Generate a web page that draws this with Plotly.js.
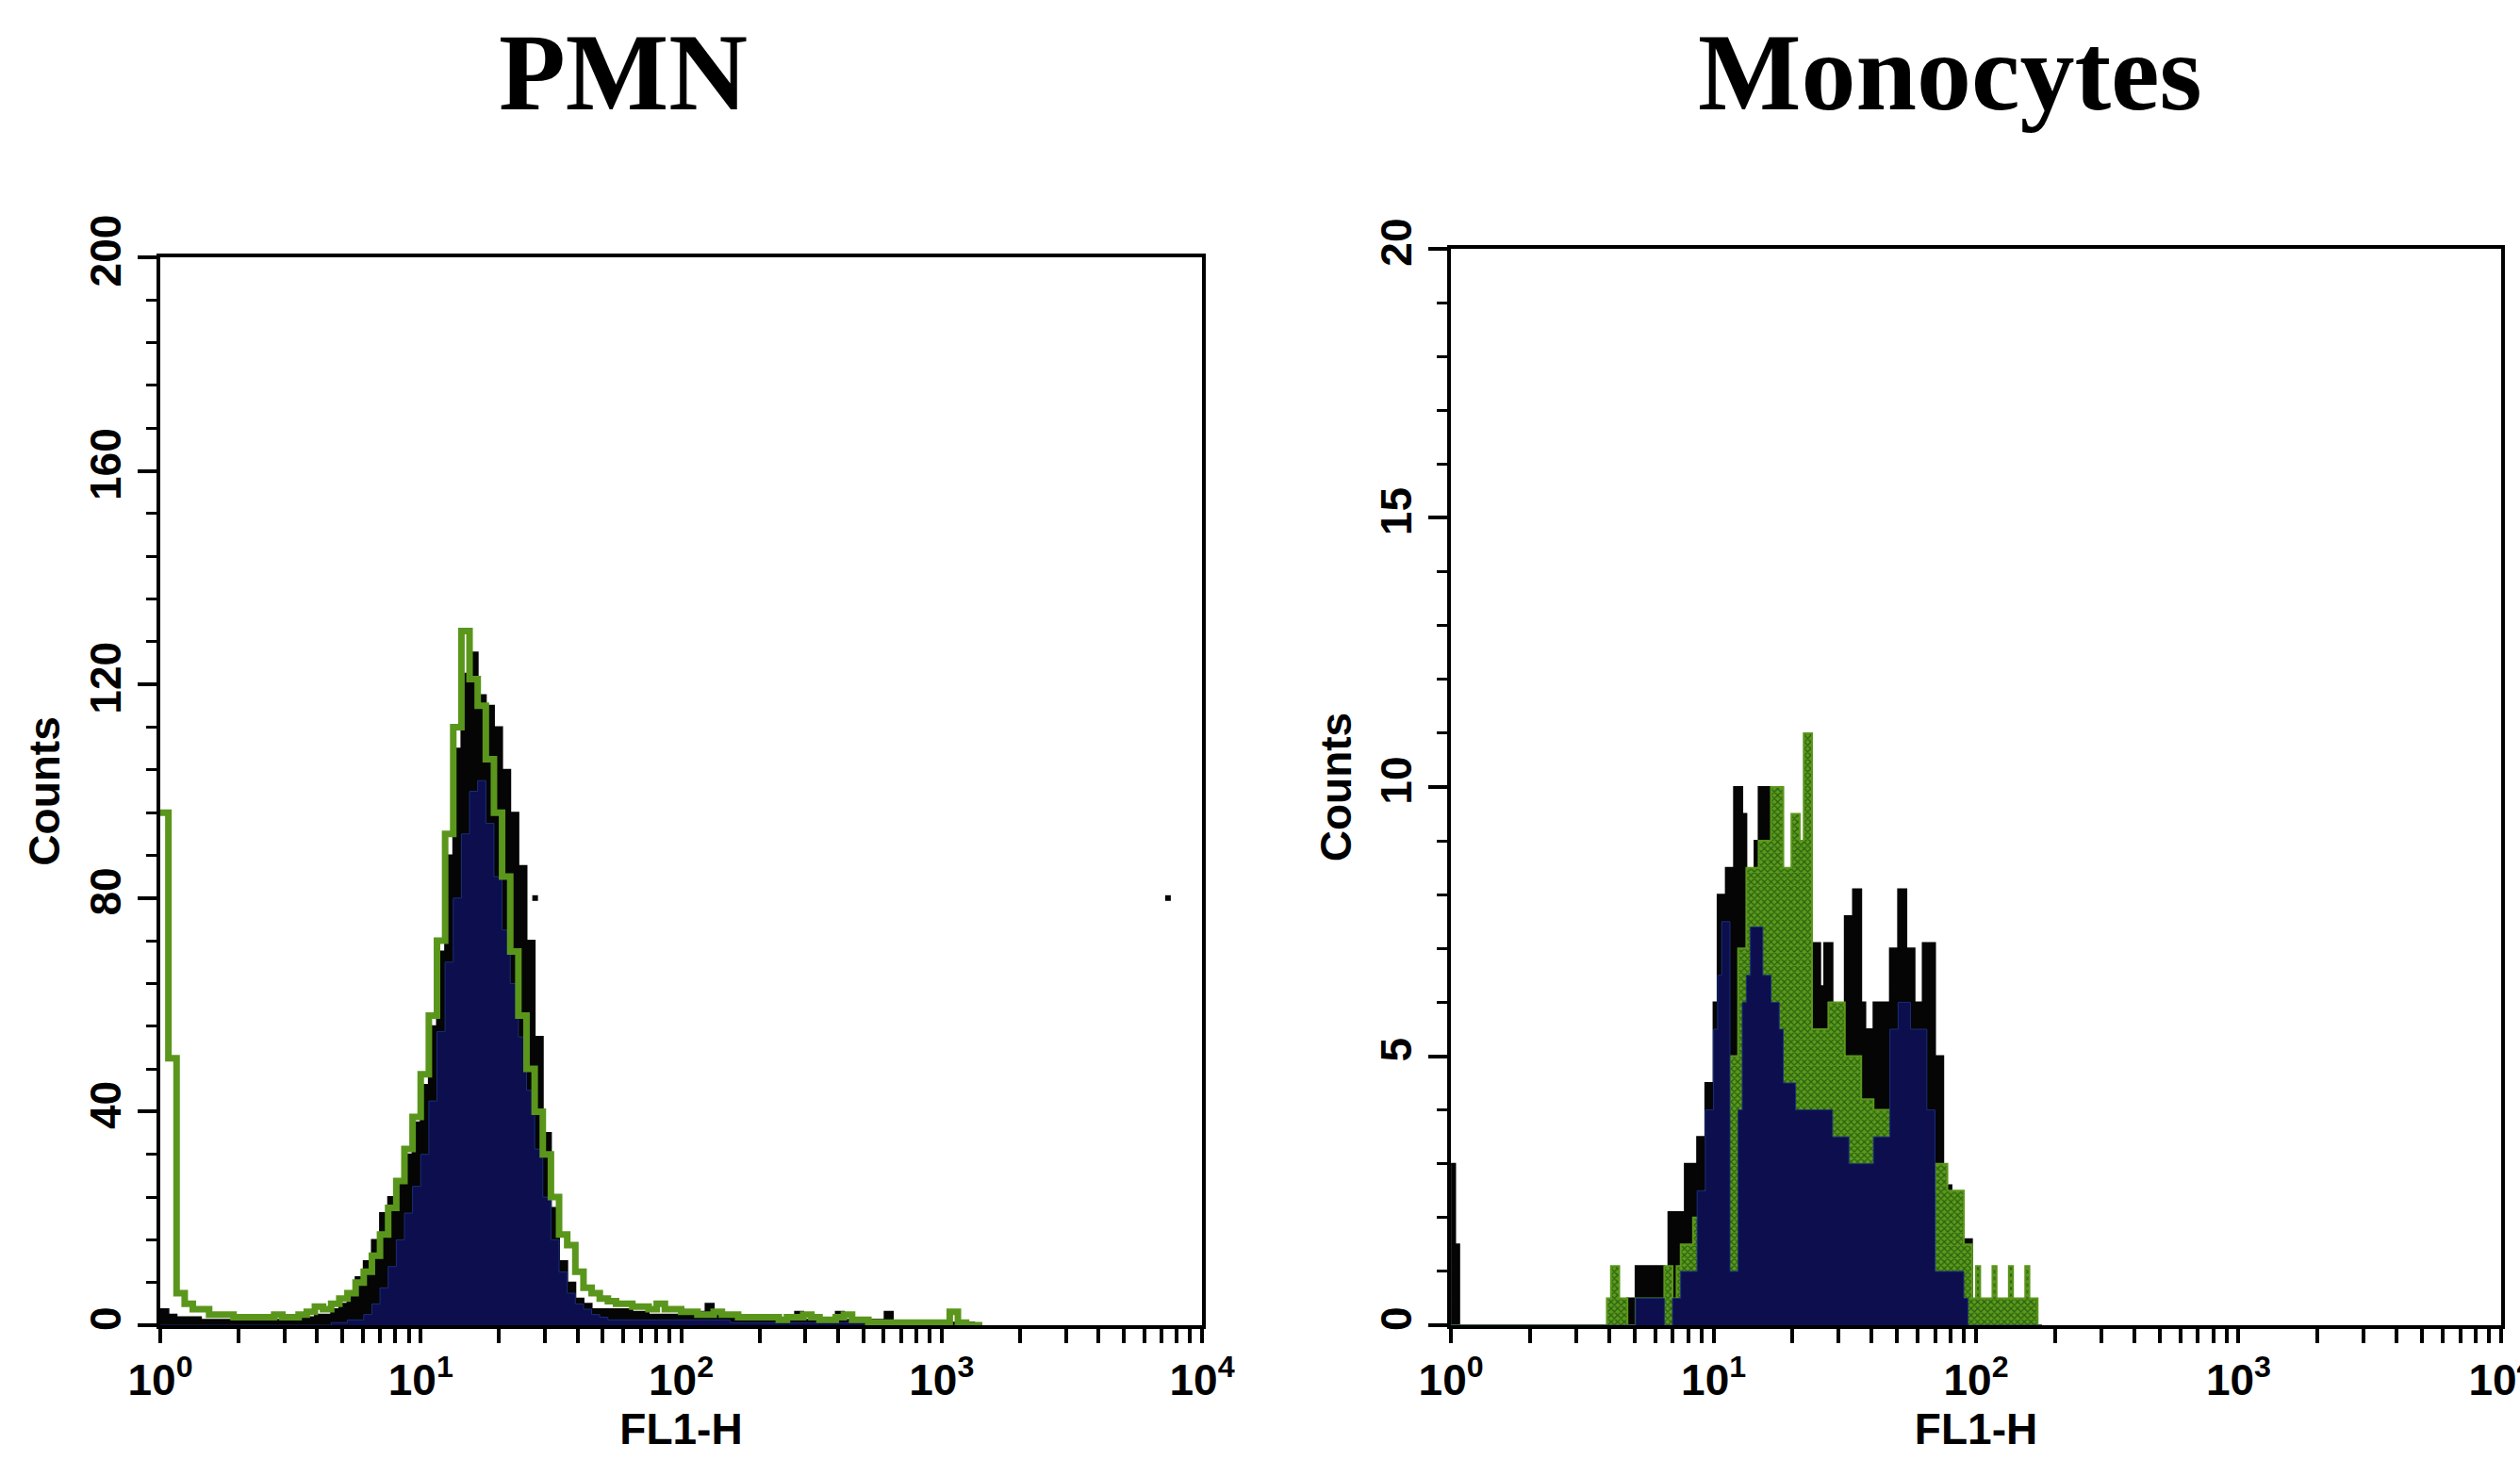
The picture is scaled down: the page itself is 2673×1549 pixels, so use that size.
<!DOCTYPE html>
<html>
<head>
<meta charset="utf-8">
<script src="https://cdn.plot.ly/plotly-3.0.1.min.js"></script>
<style>
html, body { margin: 0; padding: 0; background: #ffffff; }
#chart { width: 2673px; height: 1549px; }
</style>
</head>
<body>
<div id="chart"></div>
<script>
// ---------------- DATA ----------------
const panelTitles = ['PMN', 'Monocytes'];
const xAxisTitle = 'FL1-H';
const yAxisTitle = 'Counts';
// decade ticks (labelled) and the intermediate 2..9 ticks of each decade (unlabelled)
const xTickVals = [1, 2, 3, 4, 5, 6, 7, 8, 9,
  10, 20, 30, 40, 50, 60, 70, 80, 90,
  100, 200, 300, 400, 500, 600, 700, 800, 900,
  1000, 2000, 3000, 4000, 5000, 6000, 7000, 8000, 9000,
  10000];
const xTickText = ['10<sup>0</sup>', '', '', '', '', '', '', '', '',
  '10<sup>1</sup>', '', '', '', '', '', '', '', '',
  '10<sup>2</sup>', '', '', '', '', '', '', '', '',
  '10<sup>3</sup>', '', '', '', '', '', '', '', '',
  '10<sup>4</sup>'];
const pmnYTicks = [0, 40, 80, 120, 160, 200];
const monoYTicks = [0, 5, 10, 15, 20];

// PMN histograms: counts per channel, 32 channels per decade, starting at 10^0
const pmnChannelsPerDecade = 32;
const pmnBlack = [
  3, 2, 1.5, 1.5, 1.5, 1, 1, 1, 1, 1,
  1, 1, 1, 1, 1, 1, 1, 1.5, 1.5, 2,
  2, 3, 4, 6, 9, 12, 16, 21, 24, 27,
  32, 38, 45, 56, 70, 88, 108, 122, 126, 118,
  116, 112, 104, 96, 86, 72, 54, 36, 22, 12,
  8, 5, 4, 3, 3, 3, 3, 3, 2.5, 2.5,
  2, 2, 2, 2, 2, 2, 2.5, 4, 2, 1.5,
  1.5, 1.5, 1, 1, 1, 1, 1, 1.5, 2.5, 1,
  1, 1, 1, 2.5, 1, 1, 1, 1, 1, 2.5,
  0.5, 0.5, 0.5, 0.5, 0.5, 0.5, 0.5, 0.5, 0.5, 0.5,
  0
];
const pmnNavy = [
  0, 0, 0, 0, 0, 0, 0, 0, 0, 0,
  0, 0, 0, 0, 0, 0, 0, 0, 0, 0,
  0, 0.5, 0.5, 1, 1, 2, 4, 7, 11, 16,
  21, 26, 32, 42, 55, 68, 80, 92, 100, 102,
  94, 84, 74, 64, 54, 44, 33, 24, 16, 10,
  6, 4, 3, 2, 1.5, 1, 1, 1, 1, 1,
  1, 1, 1, 1, 1, 1, 1, 1, 1, 1,
  0.5, 0.5, 0.5, 0.5, 0.5, 0.5, 0.5, 0.5, 0.5, 0.5,
  0.5, 0.5, 0.5, 0.5, 0.5, 0.5, 0.5, 0.5, 0.5, 0.5,
  0, 0, 0, 0, 0, 0, 0, 0, 0, 0,
  0
];
const pmnGreen = [
  96, 50, 6, 4, 3, 3, 2, 2, 2, 1.5,
  1.5, 1.5, 1.5, 1.5, 2, 1.5, 1.5, 2, 2.5, 3.5,
  3, 4, 5, 6, 8, 10, 13, 17, 22, 27,
  33, 39, 47, 58, 72, 92, 112, 130, 121, 116,
  106, 96, 84, 70, 58, 48, 40, 32, 24, 17,
  15, 10, 7, 6, 5, 4.5, 4, 4, 3.5, 3.5,
  3, 4, 3, 3, 2.5, 2.5, 2, 2, 2.5, 2,
  2, 1.5, 1.5, 1.5, 1.5, 1.5, 1, 1.5, 1.5, 2,
  1.5, 1, 1, 1.5, 2, 1, 1, 0.5, 0.5, 0.5,
  0.5, 0.5, 0.5, 0.5, 0.5, 0.5, 0.5, 2.5, 0.5, 0,
  0
];
// isolated events visible in the PMN panel
const pmnDotX = [27.5, 7400];
const pmnDotY = [80, 80];

// Monocyte histograms: counts per channel, 64 channels per decade, starting at 10^0
const monoChannelsPerDecade = 64;
const monoBlack = [
  3, 1.5, 0, 0, 0, 0, 0, 0, 0, 0,
  0, 0, 0, 0, 0, 0, 0, 0, 0, 0,
  0, 0, 0, 0, 0, 0, 0, 0, 0, 0,
  0, 0, 0, 0, 0, 0, 0, 0, 0, 0,
  0, 0, 0, 0.5, 0.5, 1.1, 1.1, 1.1, 1.1, 1.1,
  1.1, 1.1, 0.5, 2.1, 2.1, 2.1, 2.1, 3, 3, 3,
  3.5, 3.5, 4.5, 4.5, 6, 8, 8, 8.5, 8.5, 10,
  10, 9.5, 8, 8, 9, 10, 10, 10, 8.5, 8,
  7.5, 8, 8, 6, 6, 5, 6, 6, 7.1, 7.1,
  6.3, 7.1, 7.1, 5, 5, 5, 7.6, 7.6, 8.1, 8.1,
  6, 5.5, 5.5, 6, 6, 6, 6, 7, 7, 8.1,
  8.1, 7, 7, 6, 6, 7.1, 7.1, 7.1, 5, 5,
  2.6, 2.6, 2.1, 2.1, 2.1, 1.6, 1.6, 0, 0, 0,
  0, 0, 0, 0, 0, 0, 0, 0, 0, 0,
  0, 0, 0, 0
];
const monoGreen = [
  0, 0, 0, 0, 0, 0, 0, 0, 0, 0,
  0, 0, 0, 0, 0, 0, 0, 0, 0, 0,
  0, 0, 0, 0, 0, 0, 0, 0, 0, 0,
  0, 0, 0, 0, 0, 0, 0, 0, 0.5, 1.1,
  1.1, 0.5, 0.5, 0, 0, 0.5, 0.5, 0.5, 0.5, 0.5,
  0.5, 0.5, 1.1, 1.1, 0.5, 1.1, 1.5, 1.5, 1.5, 2,
  2, 2, 2.5, 2.5, 3, 3, 4, 4, 5, 5,
  7, 7, 8.5, 8.5, 8.5, 9, 9, 9, 10, 10,
  10, 8.5, 8.5, 9.5, 9.5, 9, 11, 11, 5.5, 5.5,
  5.5, 5.5, 6, 6, 6, 6, 5, 5, 5, 5,
  4.2, 4.2, 4.2, 4, 4, 4, 4, 4, 3.5, 3.5,
  3, 3, 3, 3, 2.5, 2.5, 2.5, 2.5, 3, 3,
  3, 2.5, 2.5, 2.5, 2.5, 1.5, 1.5, 0.5, 1.1, 0.5,
  0.5, 0.5, 1.1, 0.5, 0.5, 0.5, 1.1, 0.5, 0.5, 0.5,
  1.1, 0.5, 0.5, 0
];
const monoNavy = [
  0, 0, 0, 0, 0, 0, 0, 0, 0, 0,
  0, 0, 0, 0, 0, 0, 0, 0, 0, 0,
  0, 0, 0, 0, 0, 0, 0, 0, 0, 0,
  0, 0, 0, 0, 0, 0, 0, 0, 0, 0,
  0, 0, 0, 0, 0, 0.5, 0.5, 0.5, 0.5, 0.5,
  0.5, 0.5, 0, 0, 0.5, 0.5, 1, 1, 1, 1,
  2.5, 2.5, 4, 4, 5.5, 6.5, 7.5, 7.5, 1, 1,
  4, 6, 6.5, 7.4, 7.4, 7.4, 6.5, 6.5, 6, 6,
  5.5, 4.5, 4.5, 4.5, 4, 4, 4, 4, 4, 4,
  4, 4, 4, 3.5, 3.5, 3.5, 3.5, 3, 3, 3,
  3, 3, 3, 3.5, 3.5, 3.5, 3.5, 5.5, 5.5, 6,
  6, 6, 5.5, 5.5, 5.5, 5.5, 4, 4, 1, 1,
  1, 1, 1, 1, 1, 0.5, 0, 0, 0, 0,
  0, 0, 0, 0, 0, 0, 0, 0, 0, 0,
  0, 0, 0, 0
];

// ---------------- STYLE ----------------
const COL_BLACK = '#050505';
const COL_NAVY = '#0c0e4e';
const COL_GREEN = '#5a961c';
const COL_GREEN_DARK = '#2a600c';
const SANS = 'Liberation Sans, Arial, sans-serif';
const SERIF = 'Liberation Serif, Times New Roman, serif';

function steps(counts, perDecade) {
  const x = [], y = [];
  for (let i = 0; i < counts.length; i++) {
    x.push(Math.pow(10, i / perDecade));
    y.push(counts[i]);
  }
  x.push(Math.pow(10, counts.length / perDecade));
  y.push(counts[counts.length - 1]);
  return { x, y };
}

const pB = steps(pmnBlack, pmnChannelsPerDecade);
const pN = steps(pmnNavy, pmnChannelsPerDecade);
const pG = steps(pmnGreen, pmnChannelsPerDecade);
const mB = steps(monoBlack, monoChannelsPerDecade);
const mG = steps(monoGreen, monoChannelsPerDecade);
const mN = steps(monoNavy, monoChannelsPerDecade);

const traces = [
  { x: pB.x, y: pB.y, xaxis: 'x', yaxis: 'y', type: 'scatter', mode: 'lines',
    line: { shape: 'hv', color: COL_BLACK, width: 2 }, fill: 'tozeroy', fillcolor: COL_BLACK },
  { x: pN.x, y: pN.y, xaxis: 'x', yaxis: 'y', type: 'scatter', mode: 'lines',
    line: { shape: 'hv', color: '#1b2f7a', width: 1 }, fill: 'tozeroy', fillcolor: COL_NAVY },
  { x: pG.x, y: pG.y, xaxis: 'x', yaxis: 'y', type: 'scatter', mode: 'lines',
    line: { shape: 'hv', color: COL_GREEN, width: 7 } },
  { x: pmnDotX, y: pmnDotY, xaxis: 'x', yaxis: 'y', type: 'scatter', mode: 'markers',
    marker: { symbol: 'square', size: 6, color: COL_BLACK } },

  { x: mB.x, y: mB.y, xaxis: 'x2', yaxis: 'y2', type: 'scatter', mode: 'lines',
    line: { shape: 'hv', color: COL_BLACK, width: 2 }, fill: 'tozeroy', fillcolor: COL_BLACK },
  { x: mG.x, y: mG.y, xaxis: 'x2', yaxis: 'y2', type: 'scatter', mode: 'lines',
    line: { shape: 'hv', color: COL_GREEN, width: 2 }, fill: 'tozeroy', fillcolor: COL_GREEN,
    fillpattern: { shape: 'x', bgcolor: '#5c9a1e', fgcolor: COL_GREEN_DARK, size: 5, solidity: 0.45 } },
  { x: mN.x, y: mN.y, xaxis: 'x2', yaxis: 'y2', type: 'scatter', mode: 'lines',
    line: { shape: 'hv', color: '#1b2f7a', width: 1 }, fill: 'tozeroy', fillcolor: COL_NAVY }
];

const tickFont = { family: SANS, size: 46, color: '#000', weight: 'bold' };
const titleFont = { family: SANS, size: 46, color: '#000', weight: 'bold' };

function xAxis(domain, anchor) {
  return {
    domain: domain, anchor: anchor, type: 'log', range: [0, 4],
    tickmode: 'array', tickvals: xTickVals, ticktext: xTickText,
    ticks: 'outside', ticklen: 15, tickwidth: 4, tickcolor: '#000', layer: 'above traces',
    showline: true, linewidth: 4, linecolor: '#000', mirror: true,
    showgrid: false, zeroline: false, tickfont: tickFont,
    ticklabeloverflow: 'allow',
    title: { text: xAxisTitle, font: titleFont, standoff: 2 }
  };
}
function yAxis(domain, anchor, maxV, ticks, minorStep) {
  return {
    domain: domain, anchor: anchor, range: [0, maxV],
    tickmode: 'array', tickvals: ticks,
    ticks: 'outside', ticklen: 20, tickwidth: 4, tickcolor: '#000',
    minor: { tick0: 0, dtick: minorStep, ticks: 'outside', ticklen: 11, tickwidth: 3, tickcolor: '#000', showgrid: false },
    tickangle: -90,
    showline: true, linewidth: 4, linecolor: '#000', mirror: true,
    showgrid: false, zeroline: false, tickfont: tickFont,
    ticklabeloverflow: 'allow',
    title: { text: yAxisTitle, font: titleFont, standoff: 8 }
  };
}

const layout = {
  width: 2673, height: 1549,
  margin: { l: 0, r: 0, t: 0, b: 0 },
  paper_bgcolor: '#ffffff', plot_bgcolor: '#ffffff',
  showlegend: false,
  xaxis: xAxis([0.0636, 0.4770], 'y'),
  yaxis: yAxis([0.0923, 0.8238], 'x', 200, pmnYTicks, 8),
  xaxis2: xAxis([0.5758, 0.9925], 'y2'),
  yaxis2: yAxis([0.0923, 0.8296], 'x2', 20, monoYTicks, 1),
  annotations: [
    { text: panelTitles[0], xref: 'paper', yref: 'paper', x: 0.2473, y: 0.950,
      xanchor: 'center', yanchor: 'middle', showarrow: false,
      font: { family: SERIF, size: 116, color: '#000', weight: 'bold' } },
    { text: panelTitles[1], xref: 'paper', yref: 'paper', x: 0.7737, y: 0.950,
      xanchor: 'center', yanchor: 'middle', showarrow: false,
      font: { family: SERIF, size: 116, color: '#000', weight: 'bold' } }
  ]
};

Plotly.newPlot('chart', traces, layout, { staticPlot: true, displayModeBar: false });
</script>
</body>
</html>
